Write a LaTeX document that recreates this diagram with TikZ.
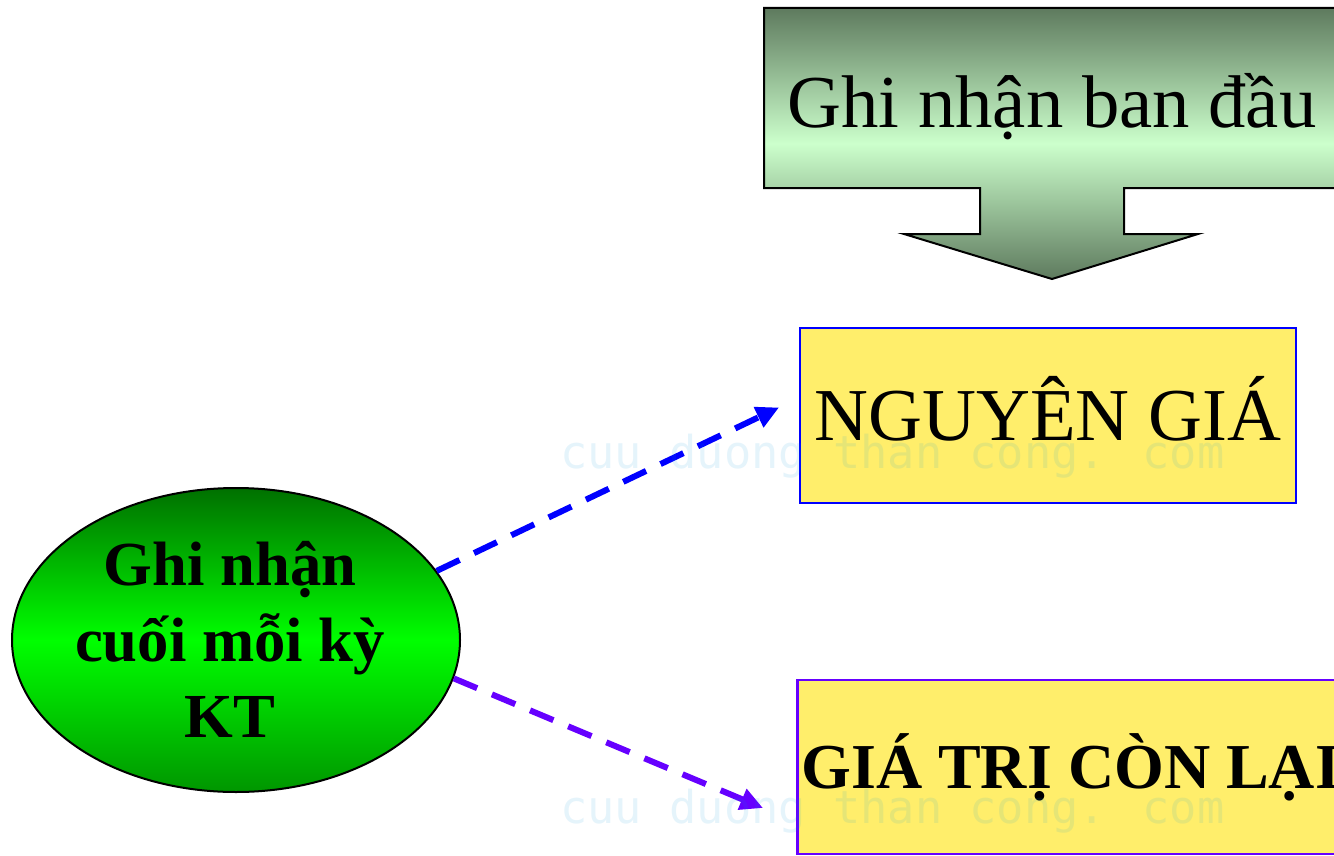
\documentclass[tikz,border=0pt]{standalone}
\usepackage{fontspec}
\setmainfont{Liberation Serif}
\newfontfamily\wmfont{DejaVu Sans Mono}
\usetikzlibrary{shapes.geometric,arrows.meta}
\definecolor{boxyellow}{RGB}{255,238,107}
\definecolor{arrowpurple}{RGB}{102,0,255}
\definecolor{calldark}{RGB}{94,122,94}
\definecolor{calllight}{RGB}{204,255,204}
\definecolor{elldark}{RGB}{0,112,0}
\definecolor{ellbright}{RGB}{0,255,0}
\definecolor{ellbottom}{RGB}{0,150,0}
\definecolor{wmblue}{RGB}{0,150,220}
\tikzset{
  callout/.style={draw=black, line width=1.5pt, top color=calldark, bottom color=calldark, middle color=calllight},
  toptext/.style={font=\fontsize{56}{67}\selectfont, inner sep=0pt},
  valbox/.style={draw, fill=boxyellow, text=black},
  ellshape/.style={ellipse, draw=black, line width=1.5pt, inner sep=0pt,
    top color=elldark, bottom color=ellbottom, middle color=ellbright},
  elltext/.style={font=\bfseries\fontsize{47}{57}\selectfont, align=center, inner sep=0pt},
  conn/.style={line width=4.5pt, dash pattern=on 19pt off 12pt,
    -{Triangle[length=17pt,width=16pt]}},
  wm/.style={font=\wmfont\fontsize{34}{40}\selectfont, text=wmblue, text opacity=0.1, inner sep=0pt, anchor=base west}
}
\begin{document}
\begin{tikzpicture}[x=0.75pt,y=-0.75pt]
\useasboundingbox (0,0) rectangle (1334,856);
\clip (0,0) rectangle (1334,856);
\fill[white] (0,0) rectangle (1334,856);

% top callout arrow
\path[callout] (764,8) -- (1400,8) -- (1400,188) -- (1124,188) -- (1124,234) -- (1198,234)
  -- (1052,279) -- (904,234) -- (980,234) -- (980,188) -- (764,188) -- cycle;
\node[toptext, anchor=base] (gt) at (1052,127) {Ghi nhận ban đầu};

% boxes
\node[valbox, draw=blue, line width=1.5pt, minimum width=372pt, minimum height=131.25pt,
  font=\fontsize{56}{67}\selectfont, text height=37pt, text depth=0pt] (ng) at (1048,415.5) {NGUYÊN GIÁ};
\node[valbox, draw=arrowpurple, line width=2pt, anchor=west, inner xsep=3pt, minimum height=130.5pt,
  font=\bfseries\fontsize{48}{58}\selectfont, text height=32.5pt, text depth=0pt] (gtcl) at (796,767) {GIÁ TRỊ CÒN LẠI};

% ellipse
\node[ellshape, minimum width=336pt, minimum height=228pt] (ell) at (236,640) {};
\node[elltext] (et) at (230,639) {Ghi nhận\\cuối mỗi kỳ\\KT};

% connectors
\draw[conn, blue] (ell.19) -- ([shift={(-20,-8)}]ng.west);
\draw[conn, arrowpurple] (ell.-10) -- ([shift={(-33,41)}]gtcl.west);

% watermark
\node[wm] (wm1) at (560,468) {cuu duong than cong. com};
\node[wm] (wm2) at (560,823) {cuu duong than cong. com};
\end{tikzpicture}
\end{document}
